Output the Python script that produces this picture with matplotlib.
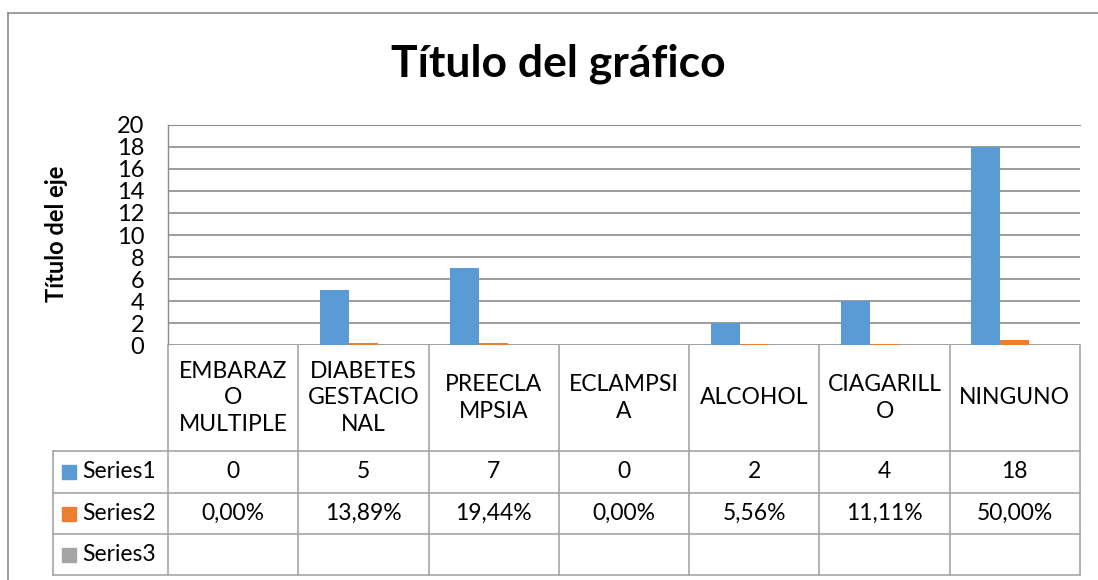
import matplotlib
matplotlib.use('Agg')
import matplotlib.pyplot as plt
from matplotlib.patches import Rectangle
import numpy as np

plt.rcParams['font.family'] = ['Lato', 'DejaVu Sans']

# datos
categorias = ['EMBARAZ\nO\nMULTIPLE', 'DIABETES\nGESTACIO\nNAL', 'PREECLA\nMPSIA',
              'ECLAMPSI\nA', 'ALCOHOL', 'CIAGARILL\nO', 'NINGUNO']
series1 = [0, 5, 7, 0, 2, 4, 18]
series2 = [0.0, 0.1389, 0.1944, 0.0, 0.0556, 0.1111, 0.5]
series3 = [None] * 7
nombres = ['Series1', 'Series2', 'Series3']
colores = ['#5B9BD5', '#ED7D31', '#A5A5A5']
yticks = list(range(0, 21, 2))

W, H = 1098, 580
fig = plt.figure(figsize=(W / 100, H / 100), dpi=100)

def fx(px):
    return px / W

def fy(py):
    return 1 - py / H

# area del grafico (px)
L, R, T, B = 168, 1080, 125, 345
ax = fig.add_axes([fx(L), fy(B), fx(R) - fx(L), fy(T) - fy(B)])

n = len(categorias)
x = np.arange(n)
w = 1 / 4.5
ax.bar(x - w, series1, w, color=colores[0], zorder=3)
ax.bar(x, series2, w, color=colores[1], zorder=3)
ax.bar(x + w, [0 if v is None else v for v in series3], w, color=colores[2], zorder=3)

ax.set_xlim(-0.5, n - 0.5)
ax.set_ylim(0, 20)
ax.set_yticks(yticks)
ax.set_yticklabels([str(t) for t in yticks], fontsize=17)
ax.tick_params(axis='y', length=0, pad=17)
ax.set_xticks([])
ax.grid(axis='y', color='#8C8C8C', linewidth=1.2, zorder=0)
for s in ['right', 'bottom']:
    ax.spines[s].set_visible(False)
ax.spines['top'].set_color('#8C8C8C')
ax.spines['left'].set_color('#8C8C8C')
ax.spines['left'].set_linewidth(1.0)

# titulo y eje
fig.text(fx(558), fy(64), 'Título del gráfico', fontsize=32, fontweight='bold',
         ha='center', va='center')
fig.text(fx(57), fy(234), 'Título del eje', fontsize=17, fontweight='bold',
         rotation=90, ha='center', va='center')

# marco exterior
fig.add_artist(plt.Line2D([fx(8), fx(8)], [fy(13), 0], color='#8C8C8C', lw=1.2))
fig.add_artist(plt.Line2D([fx(8), 1], [fy(13), fy(13)], color='#8C8C8C', lw=1.2))

# tabla de datos
lc = '#A6A6A6'
fs = 16.5
col_w = (R - L) / n
filas = [B, 451, 493, 534, 575]
leg_l = 53

# verticales
for i in range(n + 1):
    xp = L + i * col_w
    fig.add_artist(plt.Line2D([fx(xp), fx(xp)], [fy(B), fy(filas[-1])], color=lc, lw=1.2))
fig.add_artist(plt.Line2D([fx(leg_l), fx(leg_l)], [fy(filas[1]), fy(filas[-1])], color=lc, lw=1.2))
# horizontales
for yp in filas[1:]:
    fig.add_artist(plt.Line2D([fx(leg_l), fx(R)], [fy(yp), fy(yp)], color=lc, lw=1.2))

for i, c in enumerate(categorias):
    xc = L + (i + 0.5) * col_w
    fig.text(fx(xc), fy((filas[0] + filas[1]) / 2), c, fontsize=fs, ha='center', va='center',
             linespacing=1.3)

valores = [[str(v) for v in series1],
           [('%.2f%%' % (v * 100)).replace('.', ',') for v in series2],
           ['' for v in series3]]
for j in range(3):
    yc = (filas[j + 1] + filas[j + 2]) / 2
    fig.add_artist(Rectangle((fx(62), fy(yc + 7)), fx(14), 14 / H, color=colores[j],
                             transform=fig.transFigure))
    fig.text(fx(82), fy(yc), nombres[j], fontsize=fs, ha='left', va='center')
    for i in range(n):
        xc = L + (i + 0.5) * col_w
        fig.text(fx(xc), fy(yc), valores[j][i], fontsize=fs, ha='center', va='center')

fig.savefig('out.png', dpi=100)
